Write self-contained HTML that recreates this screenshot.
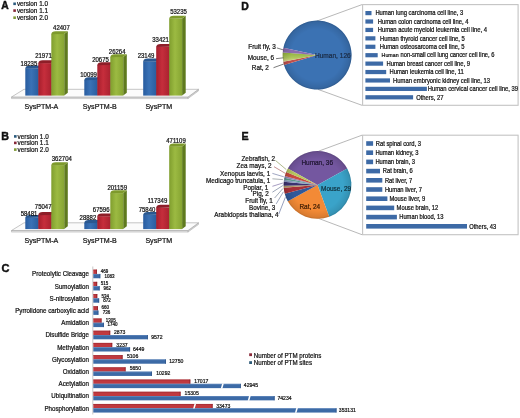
<!DOCTYPE html>
<html><head><meta charset="utf-8"><style>html,body{margin:0;padding:0;background:#fff;width:520px;height:418px;overflow:hidden}text{font-family:"Liberation Sans", sans-serif}</style></head><body>
<svg width="520" height="418" viewBox="0 0 520 418" style="display:block;will-change:transform;font-family:'Liberation Sans', sans-serif">
<defs>
<linearGradient id="gb" x1="0" x2="1" y1="0" y2="0"><stop offset="0" stop-color="#285c9f"/><stop offset="0.45" stop-color="#3a72b6"/><stop offset="1" stop-color="#2a5e9f"/></linearGradient>
<linearGradient id="gr" x1="0" x2="1" y1="0" y2="0"><stop offset="0" stop-color="#a61e2c"/><stop offset="0.45" stop-color="#c62e3c"/><stop offset="1" stop-color="#aa2230"/></linearGradient>
<linearGradient id="gg" x1="0" x2="1" y1="0" y2="0"><stop offset="0" stop-color="#809e2e"/><stop offset="0.45" stop-color="#9cba42"/><stop offset="1" stop-color="#86a432"/></linearGradient>
<radialGradient id="rim" cx="0.5" cy="0.5" r="0.5"><stop offset="0.75" stop-color="#000" stop-opacity="0"/><stop offset="0.95" stop-color="#000" stop-opacity="0.10"/><stop offset="1" stop-color="#000" stop-opacity="0.22"/></radialGradient>
<radialGradient id="hub" cx="0.5" cy="0.5" r="0.5"><stop offset="0" stop-color="#fff" stop-opacity="0.35"/><stop offset="0.5" stop-color="#fff" stop-opacity="0.0"/></radialGradient>
<linearGradient id="dgreen" x1="0" x2="0" y1="0" y2="1"><stop offset="0" stop-color="#8fb03c"/><stop offset="0.6" stop-color="#b0c860"/><stop offset="1" stop-color="#e8dc9a"/></linearGradient>
</defs>
<rect width="520" height="418" fill="#ffffff"/>
<text x="1.30" y="9.40" font-size="10.29" font-weight="bold" fill="#111" stroke="#111" stroke-width="0.45">A</text>
<rect x="13.30" y="2.50" width="2.6" height="2.6" fill="#2a5a7e"/>
<text x="16.90" y="6.28" font-size="6.93" text-anchor="start" fill="#111" stroke="#111" stroke-width="0.22" textLength="31.11" lengthAdjust="spacingAndGlyphs" >version 1.0</text>
<rect x="13.30" y="9.30" width="2.6" height="2.6" fill="#862838"/>
<text x="16.90" y="13.08" font-size="6.93" text-anchor="start" fill="#111" stroke="#111" stroke-width="0.22" textLength="31.11" lengthAdjust="spacingAndGlyphs" >version 1.1</text>
<rect x="13.30" y="16.40" width="2.6" height="2.6" fill="#7f9a38"/>
<text x="16.90" y="20.18" font-size="6.93" text-anchor="start" fill="#111" stroke="#111" stroke-width="0.22" textLength="31.11" lengthAdjust="spacingAndGlyphs" >version 2.0</text>
<polygon points="11.5,97.00 188,97.00 188,98.60 11.5,98.60" fill="#e2e2e2" stroke="#a8a8a8" stroke-width="0.5"/>
<polygon points="188,97.00 198.5,89.30 198.5,90.90 188,98.60" fill="#d4d4d4" stroke="#a8a8a8" stroke-width="0.5"/>
<polygon points="24,89.30 198.5,89.30 188,97.00 11.5,97.00" fill="#fbfbfb" stroke="#a0a0a0" stroke-width="0.6"/>
<polygon points="38.30,68.42 41.90,65.62 41.90,92.80 38.30,95.60" fill="#24508a"/>
<rect x="25.30" y="68.42" width="13.00" height="27.18" fill="url(#gb)"/>
<path d="M25.30,68.72 Q25.50,65.62 29.70,65.62 L41.90,65.62 L38.30,68.42 Z" fill="#2a5890"/>
<polygon points="51.30,63.09 54.90,60.29 54.90,92.80 51.30,95.60" fill="#861a24"/>
<rect x="38.30" y="63.09" width="13.00" height="32.51" fill="url(#gr)"/>
<path d="M38.30,63.39 Q38.50,60.29 42.70,60.29 L54.90,60.29 L51.30,63.09 Z" fill="#8e1e28"/>
<polygon points="64.20,33.97 67.80,31.17 67.80,92.80 64.20,95.60" fill="#5f7a1e"/>
<rect x="51.30" y="33.97" width="12.90" height="61.63" fill="url(#gg)"/>
<path d="M51.30,34.27 Q51.50,31.17 55.70,31.17 L67.80,31.17 L64.20,33.97 Z" fill="#7e9a2c"/>
<polygon points="97.30,80.01 100.90,77.21 100.90,92.80 97.30,95.60" fill="#24508a"/>
<rect x="84.30" y="80.01" width="13.00" height="15.59" fill="url(#gb)"/>
<path d="M84.30,80.31 Q84.50,77.21 88.70,77.21 L100.90,77.21 L97.30,80.01 Z" fill="#2a5890"/>
<polygon points="110.30,64.94 113.90,62.14 113.90,92.80 110.30,95.60" fill="#861a24"/>
<rect x="97.30" y="64.94" width="13.00" height="30.66" fill="url(#gr)"/>
<path d="M97.30,65.24 Q97.50,62.14 101.70,62.14 L113.90,62.14 L110.30,64.94 Z" fill="#8e1e28"/>
<polygon points="123.20,56.97 126.80,54.17 126.80,92.80 123.20,95.60" fill="#5f7a1e"/>
<rect x="110.30" y="56.97" width="12.90" height="38.63" fill="url(#gg)"/>
<path d="M110.30,57.27 Q110.50,54.17 114.70,54.17 L126.80,54.17 L123.20,56.97 Z" fill="#7e9a2c"/>
<polygon points="156.20,61.41 159.80,58.61 159.80,92.80 156.20,95.60" fill="#24508a"/>
<rect x="143.20" y="61.41" width="13.00" height="34.19" fill="url(#gb)"/>
<path d="M143.20,61.71 Q143.40,58.61 147.60,58.61 L159.80,58.61 L156.20,61.41 Z" fill="#2a5890"/>
<polygon points="169.20,46.78 172.80,43.98 172.80,92.80 169.20,95.60" fill="#861a24"/>
<rect x="156.20" y="46.78" width="13.00" height="48.82" fill="url(#gr)"/>
<path d="M156.20,47.08 Q156.40,43.98 160.60,43.98 L172.80,43.98 L169.20,46.78 Z" fill="#8e1e28"/>
<polygon points="182.10,18.54 185.70,15.74 185.70,92.80 182.10,95.60" fill="#5f7a1e"/>
<rect x="169.20" y="18.54" width="12.90" height="77.06" fill="url(#gg)"/>
<path d="M169.20,18.84 Q169.40,15.74 173.60,15.74 L185.70,15.74 L182.10,18.54 Z" fill="#7e9a2c"/>
<text x="28.90" y="66.24" font-size="6.54" text-anchor="middle" fill="#111" stroke="#111" stroke-width="0.22" textLength="16.69" lengthAdjust="spacingAndGlyphs" >18235</text>
<text x="43.50" y="57.84" font-size="6.54" text-anchor="middle" fill="#111" stroke="#111" stroke-width="0.22" textLength="16.69" lengthAdjust="spacingAndGlyphs" >21971</text>
<text x="61.40" y="29.84" font-size="6.54" text-anchor="middle" fill="#111" stroke="#111" stroke-width="0.22" textLength="16.69" lengthAdjust="spacingAndGlyphs" >42407</text>
<text x="88.60" y="76.64" font-size="6.54" text-anchor="middle" fill="#111" stroke="#111" stroke-width="0.22" textLength="16.69" lengthAdjust="spacingAndGlyphs" >10099</text>
<text x="100.50" y="61.84" font-size="6.54" text-anchor="middle" fill="#111" stroke="#111" stroke-width="0.22" textLength="16.69" lengthAdjust="spacingAndGlyphs" >20675</text>
<text x="117.20" y="54.34" font-size="6.54" text-anchor="middle" fill="#111" stroke="#111" stroke-width="0.22" textLength="16.69" lengthAdjust="spacingAndGlyphs" >26264</text>
<text x="146.00" y="58.24" font-size="6.54" text-anchor="middle" fill="#111" stroke="#111" stroke-width="0.22" textLength="16.69" lengthAdjust="spacingAndGlyphs" >23149</text>
<text x="160.60" y="42.14" font-size="6.54" text-anchor="middle" fill="#111" stroke="#111" stroke-width="0.22" textLength="16.69" lengthAdjust="spacingAndGlyphs" >33421</text>
<text x="178.50" y="14.14" font-size="6.54" text-anchor="middle" fill="#111" stroke="#111" stroke-width="0.22" textLength="16.69" lengthAdjust="spacingAndGlyphs" >53235</text>
<text x="41.40" y="109.07" font-size="7.74" text-anchor="middle" fill="#111" stroke="#111" stroke-width="0.22" textLength="33.92" lengthAdjust="spacingAndGlyphs" >SysPTM-A</text>
<text x="99.80" y="109.07" font-size="7.74" text-anchor="middle" fill="#111" stroke="#111" stroke-width="0.22" textLength="33.92" lengthAdjust="spacingAndGlyphs" >SysPTM-B</text>
<text x="158.80" y="109.07" font-size="7.74" text-anchor="middle" fill="#111" stroke="#111" stroke-width="0.22" textLength="26.82" lengthAdjust="spacingAndGlyphs" >SysPTM</text>
<text x="1.30" y="139.70" font-size="10.70" font-weight="bold" fill="#111" stroke="#111" stroke-width="0.45">B</text>
<rect x="14.00" y="135.10" width="2.6" height="2.6" fill="#2a5a7e"/>
<text x="17.60" y="138.88" font-size="6.93" text-anchor="start" fill="#111" stroke="#111" stroke-width="0.22" textLength="31.11" lengthAdjust="spacingAndGlyphs" >version 1.0</text>
<rect x="14.00" y="141.60" width="2.6" height="2.6" fill="#862838"/>
<text x="17.60" y="145.38" font-size="6.93" text-anchor="start" fill="#111" stroke="#111" stroke-width="0.22" textLength="31.11" lengthAdjust="spacingAndGlyphs" >version 1.1</text>
<rect x="14.00" y="148.30" width="2.6" height="2.6" fill="#7f9a38"/>
<text x="17.60" y="152.08" font-size="6.93" text-anchor="start" fill="#111" stroke="#111" stroke-width="0.22" textLength="31.11" lengthAdjust="spacingAndGlyphs" >version 2.0</text>
<polygon points="11.5,230.50 188,230.50 188,232.10 11.5,232.10" fill="#e2e2e2" stroke="#a8a8a8" stroke-width="0.5"/>
<polygon points="188,230.50 198.5,222.80 198.5,224.40 188,232.10" fill="#d4d4d4" stroke="#a8a8a8" stroke-width="0.5"/>
<polygon points="24,222.80 198.5,222.80 188,230.50 11.5,230.50" fill="#fbfbfb" stroke="#a0a0a0" stroke-width="0.6"/>
<polygon points="38.30,217.78 41.90,214.98 41.90,226.30 38.30,229.10" fill="#24508a"/>
<rect x="25.30" y="217.78" width="13.00" height="11.32" fill="url(#gb)"/>
<path d="M25.30,218.08 Q25.50,214.98 29.70,214.98 L41.90,214.98 L38.30,217.78 Z" fill="#2a5890"/>
<polygon points="51.30,214.92 54.90,212.12 54.90,226.30 51.30,229.10" fill="#861a24"/>
<rect x="38.30" y="214.92" width="13.00" height="14.18" fill="url(#gr)"/>
<path d="M38.30,215.22 Q38.50,212.12 42.70,212.12 L54.90,212.12 L51.30,214.92 Z" fill="#8e1e28"/>
<polygon points="64.20,165.15 67.80,162.35 67.80,226.30 64.20,229.10" fill="#5f7a1e"/>
<rect x="51.30" y="165.15" width="12.90" height="63.95" fill="url(#gg)"/>
<path d="M51.30,165.45 Q51.50,162.35 55.70,162.35 L67.80,162.35 L64.20,165.15 Z" fill="#7e9a2c"/>
<polygon points="97.30,222.90 100.90,220.10 100.90,226.30 97.30,229.10" fill="#24508a"/>
<rect x="84.30" y="222.90" width="13.00" height="6.20" fill="url(#gb)"/>
<path d="M84.30,223.20 Q84.50,220.10 88.70,220.10 L100.90,220.10 L97.30,222.90 Z" fill="#2a5890"/>
<polygon points="110.30,216.21 113.90,213.41 113.90,226.30 110.30,229.10" fill="#861a24"/>
<rect x="97.30" y="216.21" width="13.00" height="12.89" fill="url(#gr)"/>
<path d="M97.30,216.51 Q97.50,213.41 101.70,213.41 L113.90,213.41 L110.30,216.21 Z" fill="#8e1e28"/>
<polygon points="123.20,193.10 126.80,190.30 126.80,226.30 123.20,229.10" fill="#5f7a1e"/>
<rect x="110.30" y="193.10" width="12.90" height="36.00" fill="url(#gg)"/>
<path d="M110.30,193.40 Q110.50,190.30 114.70,190.30 L126.80,190.30 L123.20,193.10 Z" fill="#7e9a2c"/>
<polygon points="156.20,214.78 159.80,211.98 159.80,226.30 156.20,229.10" fill="#24508a"/>
<rect x="143.20" y="214.78" width="13.00" height="14.32" fill="url(#gb)"/>
<path d="M143.20,215.08 Q143.40,211.98 147.60,211.98 L159.80,211.98 L156.20,214.78 Z" fill="#2a5890"/>
<polygon points="169.20,207.60 172.80,204.80 172.80,226.30 169.20,229.10" fill="#861a24"/>
<rect x="156.20" y="207.60" width="13.00" height="21.50" fill="url(#gr)"/>
<path d="M156.20,207.90 Q156.40,204.80 160.60,204.80 L172.80,204.80 L169.20,207.60 Z" fill="#8e1e28"/>
<polygon points="182.10,146.40 185.70,143.60 185.70,226.30 182.10,229.10" fill="#5f7a1e"/>
<rect x="169.20" y="146.40" width="12.90" height="82.70" fill="url(#gg)"/>
<path d="M169.20,146.70 Q169.40,143.60 173.60,143.60 L185.70,143.60 L182.10,146.40 Z" fill="#7e9a2c"/>
<text x="29.00" y="215.84" font-size="6.54" text-anchor="middle" fill="#111" stroke="#111" stroke-width="0.22" textLength="16.69" lengthAdjust="spacingAndGlyphs" >58481</text>
<text x="43.20" y="208.84" font-size="6.54" text-anchor="middle" fill="#111" stroke="#111" stroke-width="0.22" textLength="16.69" lengthAdjust="spacingAndGlyphs" >75047</text>
<text x="61.80" y="160.84" font-size="6.54" text-anchor="middle" fill="#111" stroke="#111" stroke-width="0.22" textLength="20.02" lengthAdjust="spacingAndGlyphs" >362704</text>
<text x="87.90" y="220.04" font-size="6.54" text-anchor="middle" fill="#111" stroke="#111" stroke-width="0.22" textLength="16.69" lengthAdjust="spacingAndGlyphs" >28882</text>
<text x="101.20" y="212.34" font-size="6.54" text-anchor="middle" fill="#111" stroke="#111" stroke-width="0.22" textLength="16.69" lengthAdjust="spacingAndGlyphs" >67596</text>
<text x="117.20" y="189.94" font-size="6.54" text-anchor="middle" fill="#111" stroke="#111" stroke-width="0.22" textLength="19.58" lengthAdjust="spacingAndGlyphs" >201159</text>
<text x="147.00" y="211.94" font-size="6.54" text-anchor="middle" fill="#111" stroke="#111" stroke-width="0.22" textLength="16.69" lengthAdjust="spacingAndGlyphs" >75840</text>
<text x="157.50" y="203.24" font-size="6.54" text-anchor="middle" fill="#111" stroke="#111" stroke-width="0.22" textLength="19.58" lengthAdjust="spacingAndGlyphs" >117349</text>
<text x="176.00" y="143.24" font-size="6.54" text-anchor="middle" fill="#111" stroke="#111" stroke-width="0.22" textLength="19.58" lengthAdjust="spacingAndGlyphs" >471109</text>
<text x="41.40" y="242.57" font-size="7.74" text-anchor="middle" fill="#111" stroke="#111" stroke-width="0.22" textLength="33.92" lengthAdjust="spacingAndGlyphs" >SysPTM-A</text>
<text x="99.80" y="242.57" font-size="7.74" text-anchor="middle" fill="#111" stroke="#111" stroke-width="0.22" textLength="33.92" lengthAdjust="spacingAndGlyphs" >SysPTM-B</text>
<text x="158.80" y="242.57" font-size="7.74" text-anchor="middle" fill="#111" stroke="#111" stroke-width="0.22" textLength="26.82" lengthAdjust="spacingAndGlyphs" >SysPTM</text>
<text x="241.20" y="9.60" font-size="10.43" font-weight="bold" fill="#111" stroke="#111" stroke-width="0.45">D</text>
<line x1="317" y1="21" x2="362" y2="4.6" stroke="#9a9a9a" stroke-width="0.7"/>
<line x1="318" y1="89.4" x2="362" y2="105.3" stroke="#9a9a9a" stroke-width="0.7"/>
<path d="M317.10,55.10 L283.40,47.69 A34.50,34.50 0 1 1 284.02,64.90 Z" fill="#3b72b3"/>
<path d="M317.10,55.10 L284.02,64.90 A34.50,34.50 0 0 1 283.26,61.83 Z" fill="#c0504d"/>
<path d="M317.10,55.10 L283.26,61.83 A34.50,34.50 0 0 1 282.71,52.39 Z" fill="url(#dgreen)"/>
<path d="M317.10,55.10 L282.71,52.39 A34.50,34.50 0 0 1 283.40,47.69 Z" fill="#8a6cb0"/>
<circle cx="317.1" cy="55.1" r="34.5" fill="url(#rim)"/>
<text x="262.10" y="49.00" font-size="6.98" text-anchor="middle" fill="#111" stroke="#111" stroke-width="0.22" textLength="27.62" lengthAdjust="spacingAndGlyphs" >Fruit fly, 3</text>
<text x="260.90" y="60.20" font-size="6.98" text-anchor="middle" fill="#111" stroke="#111" stroke-width="0.22" textLength="26.33" lengthAdjust="spacingAndGlyphs" >Mouse, 6</text>
<text x="260.40" y="70.40" font-size="6.98" text-anchor="middle" fill="#111" stroke="#111" stroke-width="0.22" textLength="17.07" lengthAdjust="spacingAndGlyphs" >Rat, 2</text>
<polyline points="276.9,47.9 283.6,50" fill="none" stroke="#333" stroke-width="0.65"/>
<polyline points="276,58.7 283.3,57.8" fill="none" stroke="#333" stroke-width="0.65"/>
<polyline points="273.5,67.7 283.8,64" fill="none" stroke="#333" stroke-width="0.65"/>
<text x="315.00" y="58.16" font-size="7.14" text-anchor="start" fill="#1b2b44" stroke="#1b2b44" stroke-width="0.22" textLength="35.68" lengthAdjust="spacingAndGlyphs" >Human, 126</text>
<rect x="362.6" y="4.6" width="155.5" height="100.7" fill="#ffffff" stroke="#c4c4c4" stroke-width="1.1"/>
<rect x="365.4" y="11.00" width="6.10" height="4.2" fill="#3d6aa6"/>
<text x="375.40" y="15.38" font-size="6.38" text-anchor="start" fill="#111" stroke="#111" stroke-width="0.22" textLength="87.80" lengthAdjust="spacingAndGlyphs" >Human lung carcinoma cell line, 3</text>
<rect x="365.4" y="19.42" width="7.70" height="4.2" fill="#3d6aa6"/>
<text x="377.70" y="23.80" font-size="6.38" text-anchor="start" fill="#111" stroke="#111" stroke-width="0.22" textLength="90.72" lengthAdjust="spacingAndGlyphs" >Human colon carcinoma cell line, 4</text>
<rect x="365.4" y="27.84" width="7.70" height="4.2" fill="#3d6aa6"/>
<text x="377.70" y="32.22" font-size="6.38" text-anchor="start" fill="#111" stroke="#111" stroke-width="0.22" textLength="109.26" lengthAdjust="spacingAndGlyphs" >Human acute myeloid leukemia cell line, 4</text>
<rect x="365.4" y="36.26" width="10.00" height="4.2" fill="#3d6aa6"/>
<text x="380.00" y="40.64" font-size="6.38" text-anchor="start" fill="#111" stroke="#111" stroke-width="0.22" textLength="84.87" lengthAdjust="spacingAndGlyphs" >Human thyroid cancer cell line, 5</text>
<rect x="365.4" y="44.68" width="10.00" height="4.2" fill="#3d6aa6"/>
<text x="379.70" y="49.06" font-size="6.38" text-anchor="start" fill="#111" stroke="#111" stroke-width="0.22" textLength="84.87" lengthAdjust="spacingAndGlyphs" >Human osteosarcoma cell line, 5</text>
<rect x="365.4" y="53.10" width="12.30" height="4.2" fill="#3d6aa6"/>
<text x="381.60" y="57.27" font-size="5.78" text-anchor="start" fill="#111" stroke="#111" stroke-width="0.22" textLength="17.09" lengthAdjust="spacingAndGlyphs" >Human</text>
<text x="400.50" y="57.45" font-size="6.29" text-anchor="start" fill="#111" stroke="#111" stroke-width="0.22" textLength="93.97" lengthAdjust="spacingAndGlyphs" >non-small cell lung cancer cell line, 6</text>
<rect x="365.4" y="61.52" width="17.70" height="4.2" fill="#3d6aa6"/>
<text x="386.50" y="65.90" font-size="6.38" text-anchor="start" fill="#111" stroke="#111" stroke-width="0.22" textLength="83.57" lengthAdjust="spacingAndGlyphs" >Human breast cancer cell line, 9</text>
<rect x="365.4" y="69.94" width="20.80" height="4.2" fill="#3d6aa6"/>
<text x="389.50" y="74.32" font-size="6.38" text-anchor="start" fill="#111" stroke="#111" stroke-width="0.22" textLength="74.36" lengthAdjust="spacingAndGlyphs" >Human leukemia cell line, 11</text>
<rect x="365.4" y="78.36" width="24.60" height="4.2" fill="#3d6aa6"/>
<text x="393.10" y="82.74" font-size="6.38" text-anchor="start" fill="#111" stroke="#111" stroke-width="0.22" textLength="96.90" lengthAdjust="spacingAndGlyphs" >Human embryonic kidney cell line, 13</text>
<rect x="365.4" y="86.78" width="61.50" height="4.2" fill="#3d6aa6"/>
<text x="427.70" y="91.16" font-size="6.38" text-anchor="start" fill="#111" stroke="#111" stroke-width="0.22" textLength="90.39" lengthAdjust="spacingAndGlyphs" >Human cervical cancer cell line, 39</text>
<rect x="365.4" y="95.20" width="47.70" height="4.2" fill="#3d6aa6"/>
<text x="416.20" y="99.58" font-size="6.38" text-anchor="start" fill="#111" stroke="#111" stroke-width="0.22" textLength="27.31" lengthAdjust="spacingAndGlyphs" >Others, 27</text>
<text x="241.40" y="139.80" font-size="10.70" font-weight="bold" fill="#111" stroke="#111" stroke-width="0.45">E</text>
<line x1="318.5" y1="151.2" x2="362" y2="135.2" stroke="#9a9a9a" stroke-width="0.7"/>
<line x1="318.5" y1="218.4" x2="362" y2="234.7" stroke="#9a9a9a" stroke-width="0.7"/>
<path d="M317.50,184.90 L287.85,168.46 A33.90,33.90 0 0 1 347.23,168.60 Z" fill="#7457a0"/>
<path d="M317.50,184.90 L347.23,168.60 A33.90,33.90 0 0 1 329.23,216.71 Z" fill="#3aa3c9"/>
<path d="M317.50,184.90 L329.23,216.71 A33.90,33.90 0 0 1 287.77,201.20 Z" fill="#f38a36"/>
<path d="M317.50,184.90 L287.77,201.20 A33.90,33.90 0 0 1 284.78,193.76 Z" fill="#30599a"/>
<path d="M317.50,184.90 L284.78,193.76 A33.90,33.90 0 0 1 283.73,187.83 Z" fill="#a83038"/>
<path d="M317.50,184.90 L283.73,187.83 A33.90,33.90 0 0 1 283.61,185.83 Z" fill="#b09868"/>
<path d="M317.50,184.90 L283.61,185.83 A33.90,33.90 0 0 1 283.74,181.81 Z" fill="#3c3270"/>
<path d="M317.50,184.90 L283.74,181.81 A33.90,33.90 0 0 1 283.98,179.82 Z" fill="#8a9ac0"/>
<path d="M317.50,184.90 L283.98,179.82 A33.90,33.90 0 0 1 284.34,177.84 Z" fill="#5a9a90"/>
<path d="M317.50,184.90 L284.34,177.84 A33.90,33.90 0 0 1 284.82,175.89 Z" fill="#9488b8"/>
<path d="M317.50,184.90 L284.82,175.89 A33.90,33.90 0 0 1 286.11,172.09 Z" fill="#c84a40"/>
<path d="M317.50,184.90 L286.11,172.09 A33.90,33.90 0 0 1 287.85,168.46 Z" fill="#b8c860"/>
<circle cx="317.5" cy="184.9" r="33.9" fill="url(#rim)"/>
<text x="317.20" y="164.82" font-size="7.03" text-anchor="middle" fill="#1e1430" stroke="#1e1430" stroke-width="0.22" textLength="31.55" lengthAdjust="spacingAndGlyphs" >Human, 36</text>
<text x="336.10" y="191.02" font-size="7.03" text-anchor="middle" fill="#10303c" stroke="#10303c" stroke-width="0.22" textLength="30.12" lengthAdjust="spacingAndGlyphs" >Mouse, 29</text>
<text x="309.80" y="209.42" font-size="7.03" text-anchor="middle" fill="#3a1a00" stroke="#3a1a00" stroke-width="0.22" textLength="20.80" lengthAdjust="spacingAndGlyphs" >Rat, 24</text>
<text x="275.00" y="161.08" font-size="6.92" text-anchor="end" fill="#111" stroke="#111" stroke-width="0.22" textLength="33.53" lengthAdjust="spacingAndGlyphs" >Zebrafish, 2</text>
<line x1="275.4" y1="160.4" x2="286.3" y2="169.6" stroke="#7a8a40" stroke-width="0.6"/>
<text x="271.50" y="167.88" font-size="6.92" text-anchor="end" fill="#111" stroke="#111" stroke-width="0.22" textLength="34.94" lengthAdjust="spacingAndGlyphs" >Zea mays, 2</text>
<line x1="274" y1="166.7" x2="285.4" y2="173.4" stroke="#a04a48" stroke-width="0.6"/>
<text x="270.20" y="175.58" font-size="6.92" text-anchor="end" fill="#111" stroke="#111" stroke-width="0.22" textLength="50.13" lengthAdjust="spacingAndGlyphs" >Xenopus laevis, 1</text>
<line x1="272.4" y1="173.4" x2="283.8" y2="176.8" stroke="#606a98" stroke-width="0.6"/>
<text x="270.20" y="182.68" font-size="6.92" text-anchor="end" fill="#111" stroke="#111" stroke-width="0.22" textLength="64.25" lengthAdjust="spacingAndGlyphs" >Medicago truncatula, 1</text>
<line x1="272.4" y1="178.8" x2="282.9" y2="179.6" stroke="#707a80" stroke-width="0.6"/>
<text x="268.30" y="189.98" font-size="6.92" text-anchor="end" fill="#111" stroke="#111" stroke-width="0.22" textLength="25.07" lengthAdjust="spacingAndGlyphs" >Poplar, 1</text>
<line x1="272.4" y1="186.3" x2="282.9" y2="183" stroke="#6a5a98" stroke-width="0.6"/>
<text x="268.80" y="196.28" font-size="6.92" text-anchor="end" fill="#111" stroke="#111" stroke-width="0.22" textLength="16.24" lengthAdjust="spacingAndGlyphs" >Pig, 2</text>
<line x1="272.4" y1="192.2" x2="282.9" y2="185.5" stroke="#5a6a88" stroke-width="0.6"/>
<text x="272.70" y="203.48" font-size="6.92" text-anchor="end" fill="#111" stroke="#111" stroke-width="0.22" textLength="27.40" lengthAdjust="spacingAndGlyphs" >Fruit fly, 1</text>
<line x1="274.6" y1="198" x2="282.9" y2="188.5" stroke="#607088" stroke-width="0.6"/>
<text x="275.40" y="209.78" font-size="6.92" text-anchor="end" fill="#111" stroke="#111" stroke-width="0.22" textLength="26.48" lengthAdjust="spacingAndGlyphs" >Bovine, 3</text>
<line x1="276.2" y1="203.9" x2="283.4" y2="191.8" stroke="#5a6a90" stroke-width="0.6"/>
<text x="278.50" y="216.88" font-size="6.92" text-anchor="end" fill="#111" stroke="#111" stroke-width="0.22" textLength="64.25" lengthAdjust="spacingAndGlyphs" >Arabidopsis thaliana, 4</text>
<line x1="278.7" y1="214.3" x2="285.4" y2="197.2" stroke="#506090" stroke-width="0.6"/>
<rect x="362.6" y="135.2" width="155.5" height="99.5" fill="#ffffff" stroke="#c4c4c4" stroke-width="1.1"/>
<rect x="366.2" y="141.20" width="6.90" height="4.6" fill="#3d6aa6"/>
<text x="375.80" y="145.76" font-size="6.32" text-anchor="start" fill="#111" stroke="#111" stroke-width="0.22" textLength="45.13" lengthAdjust="spacingAndGlyphs" >Rat spinal cord, 3</text>
<rect x="366.2" y="150.40" width="6.90" height="4.6" fill="#3d6aa6"/>
<text x="375.40" y="154.96" font-size="6.32" text-anchor="start" fill="#111" stroke="#111" stroke-width="0.22" textLength="43.09" lengthAdjust="spacingAndGlyphs" >Human kidney, 3</text>
<rect x="366.2" y="159.60" width="6.90" height="4.6" fill="#3d6aa6"/>
<text x="375.40" y="164.16" font-size="6.32" text-anchor="start" fill="#111" stroke="#111" stroke-width="0.22" textLength="39.66" lengthAdjust="spacingAndGlyphs" >Human brain, 3</text>
<rect x="366.2" y="168.80" width="13.80" height="4.6" fill="#3d6aa6"/>
<text x="382.80" y="173.36" font-size="6.32" text-anchor="start" fill="#111" stroke="#111" stroke-width="0.22" textLength="29.98" lengthAdjust="spacingAndGlyphs" >Rat brain, 6</text>
<rect x="366.2" y="178.00" width="16.10" height="4.6" fill="#3d6aa6"/>
<text x="384.90" y="182.56" font-size="6.32" text-anchor="start" fill="#111" stroke="#111" stroke-width="0.22" textLength="27.40" lengthAdjust="spacingAndGlyphs" >Rat liver, 7</text>
<rect x="366.2" y="187.20" width="16.10" height="4.6" fill="#3d6aa6"/>
<text x="384.90" y="191.76" font-size="6.32" text-anchor="start" fill="#111" stroke="#111" stroke-width="0.22" textLength="37.07" lengthAdjust="spacingAndGlyphs" >Human liver, 7</text>
<rect x="366.2" y="196.40" width="21.20" height="4.6" fill="#3d6aa6"/>
<text x="389.50" y="200.96" font-size="6.32" text-anchor="start" fill="#111" stroke="#111" stroke-width="0.22" textLength="35.78" lengthAdjust="spacingAndGlyphs" >Mouse liver, 9</text>
<rect x="366.2" y="205.60" width="28.00" height="4.6" fill="#3d6aa6"/>
<text x="396.60" y="210.16" font-size="6.32" text-anchor="start" fill="#111" stroke="#111" stroke-width="0.22" textLength="41.59" lengthAdjust="spacingAndGlyphs" >Mouse brain, 12</text>
<rect x="366.2" y="214.80" width="30.70" height="4.6" fill="#3d6aa6"/>
<text x="399.20" y="219.36" font-size="6.32" text-anchor="start" fill="#111" stroke="#111" stroke-width="0.22" textLength="44.18" lengthAdjust="spacingAndGlyphs" >Human blood, 13</text>
<rect x="366.2" y="224.00" width="100.80" height="4.6" fill="#3d6aa6"/>
<text x="469.20" y="228.56" font-size="6.32" text-anchor="start" fill="#111" stroke="#111" stroke-width="0.22" textLength="27.08" lengthAdjust="spacingAndGlyphs" >Others, 43</text>
<text x="1.50" y="272.10" font-size="11.11" font-weight="bold" fill="#111" stroke="#111" stroke-width="0.45">C</text>
<line x1="92.8" y1="266.5" x2="92.8" y2="414.5" stroke="#b0b0b0" stroke-width="0.7"/>
<text x="88.90" y="276.37" font-size="6.76" text-anchor="end" fill="#111" stroke="#111" stroke-width="0.22" textLength="56.86" lengthAdjust="spacingAndGlyphs" >Proteolytic Cleavage</text>
<rect x="93.30" y="269.65" width="3.60" height="4.30" fill="#c0393f"/>
<rect x="93.30" y="269.65" width="3.60" height="0.8" fill="#9a2a30" opacity="0.7"/>
<rect x="96.10" y="269.65" width="0.8" height="4.30" fill="#7e1c22" opacity="0.8"/>
<rect x="93.30" y="273.95" width="6.99" height="4.30" fill="#3c6aa6"/>
<rect x="93.30" y="273.95" width="6.99" height="0.8" fill="#6a90c0" opacity="0.7"/>
<rect x="99.49" y="273.95" width="0.8" height="4.30" fill="#2a4f82" opacity="0.8"/>
<text x="88.90" y="288.58" font-size="6.76" text-anchor="end" fill="#111" stroke="#111" stroke-width="0.22" textLength="34.12" lengthAdjust="spacingAndGlyphs" >Sumoylation</text>
<rect x="93.30" y="281.86" width="3.85" height="4.30" fill="#c0393f"/>
<rect x="93.30" y="281.86" width="3.85" height="0.8" fill="#9a2a30" opacity="0.7"/>
<rect x="96.35" y="281.86" width="0.8" height="4.30" fill="#7e1c22" opacity="0.8"/>
<rect x="93.30" y="286.16" width="6.32" height="4.30" fill="#3c6aa6"/>
<rect x="93.30" y="286.16" width="6.32" height="0.8" fill="#6a90c0" opacity="0.7"/>
<rect x="98.82" y="286.16" width="0.8" height="4.30" fill="#2a4f82" opacity="0.8"/>
<text x="88.90" y="300.79" font-size="6.76" text-anchor="end" fill="#111" stroke="#111" stroke-width="0.22" textLength="39.28" lengthAdjust="spacingAndGlyphs" >S-nitrosylation</text>
<rect x="93.30" y="294.07" width="3.95" height="4.30" fill="#c0393f"/>
<rect x="93.30" y="294.07" width="3.95" height="0.8" fill="#9a2a30" opacity="0.7"/>
<rect x="96.45" y="294.07" width="0.8" height="4.30" fill="#7e1c22" opacity="0.8"/>
<rect x="93.30" y="298.37" width="5.83" height="4.30" fill="#3c6aa6"/>
<rect x="93.30" y="298.37" width="5.83" height="0.8" fill="#6a90c0" opacity="0.7"/>
<rect x="98.33" y="298.37" width="0.8" height="4.30" fill="#2a4f82" opacity="0.8"/>
<text x="88.90" y="313.00" font-size="6.76" text-anchor="end" fill="#111" stroke="#111" stroke-width="0.22" textLength="73.75" lengthAdjust="spacingAndGlyphs" >Pyrrolidone carboxylic acid</text>
<rect x="93.30" y="306.28" width="4.65" height="4.30" fill="#c0393f"/>
<rect x="93.30" y="306.28" width="4.65" height="0.8" fill="#9a2a30" opacity="0.7"/>
<rect x="97.15" y="306.28" width="0.8" height="4.30" fill="#7e1c22" opacity="0.8"/>
<rect x="93.30" y="310.58" width="5.07" height="4.30" fill="#3c6aa6"/>
<rect x="93.30" y="310.58" width="5.07" height="0.8" fill="#6a90c0" opacity="0.7"/>
<rect x="97.57" y="310.58" width="0.8" height="4.30" fill="#2a4f82" opacity="0.8"/>
<text x="88.90" y="325.21" font-size="6.76" text-anchor="end" fill="#111" stroke="#111" stroke-width="0.22" textLength="27.57" lengthAdjust="spacingAndGlyphs" >Amidation</text>
<rect x="93.30" y="318.49" width="8.22" height="4.30" fill="#c0393f"/>
<rect x="93.30" y="318.49" width="8.22" height="0.8" fill="#9a2a30" opacity="0.7"/>
<rect x="100.72" y="318.49" width="0.8" height="4.30" fill="#7e1c22" opacity="0.8"/>
<rect x="93.30" y="322.79" width="10.63" height="4.30" fill="#3c6aa6"/>
<rect x="93.30" y="322.79" width="10.63" height="0.8" fill="#6a90c0" opacity="0.7"/>
<rect x="103.13" y="322.79" width="0.8" height="4.30" fill="#2a4f82" opacity="0.8"/>
<text x="88.90" y="337.42" font-size="6.76" text-anchor="end" fill="#111" stroke="#111" stroke-width="0.22" textLength="43.42" lengthAdjust="spacingAndGlyphs" >Disulfide Bridge</text>
<rect x="93.30" y="330.70" width="16.90" height="4.30" fill="#c0393f"/>
<rect x="93.30" y="330.70" width="16.90" height="0.8" fill="#9a2a30" opacity="0.7"/>
<rect x="109.40" y="330.70" width="0.8" height="4.30" fill="#7e1c22" opacity="0.8"/>
<rect x="93.30" y="335.00" width="54.56" height="4.30" fill="#3c6aa6"/>
<rect x="93.30" y="335.00" width="54.56" height="0.8" fill="#6a90c0" opacity="0.7"/>
<rect x="147.06" y="335.00" width="0.8" height="4.30" fill="#2a4f82" opacity="0.8"/>
<text x="88.90" y="349.63" font-size="6.76" text-anchor="end" fill="#111" stroke="#111" stroke-width="0.22" textLength="31.71" lengthAdjust="spacingAndGlyphs" >Methylation</text>
<rect x="93.30" y="342.91" width="18.91" height="4.30" fill="#c0393f"/>
<rect x="93.30" y="342.91" width="18.91" height="0.8" fill="#9a2a30" opacity="0.7"/>
<rect x="111.41" y="342.91" width="0.8" height="4.30" fill="#7e1c22" opacity="0.8"/>
<rect x="93.30" y="347.21" width="36.76" height="4.30" fill="#3c6aa6"/>
<rect x="93.30" y="347.21" width="36.76" height="0.8" fill="#6a90c0" opacity="0.7"/>
<rect x="129.26" y="347.21" width="0.8" height="4.30" fill="#2a4f82" opacity="0.8"/>
<text x="88.90" y="361.84" font-size="6.76" text-anchor="end" fill="#111" stroke="#111" stroke-width="0.22" textLength="36.87" lengthAdjust="spacingAndGlyphs" >Glycosylation</text>
<rect x="93.30" y="355.12" width="29.25" height="4.30" fill="#c0393f"/>
<rect x="93.30" y="355.12" width="29.25" height="0.8" fill="#9a2a30" opacity="0.7"/>
<rect x="121.75" y="355.12" width="0.8" height="4.30" fill="#7e1c22" opacity="0.8"/>
<rect x="93.30" y="359.42" width="72.67" height="4.30" fill="#3c6aa6"/>
<rect x="93.30" y="359.42" width="72.67" height="0.8" fill="#6a90c0" opacity="0.7"/>
<rect x="165.17" y="359.42" width="0.8" height="4.30" fill="#2a4f82" opacity="0.8"/>
<text x="88.90" y="374.05" font-size="6.76" text-anchor="end" fill="#111" stroke="#111" stroke-width="0.22" textLength="26.19" lengthAdjust="spacingAndGlyphs" >Oxidation</text>
<rect x="93.30" y="367.33" width="32.26" height="4.30" fill="#c0393f"/>
<rect x="93.30" y="367.33" width="32.26" height="0.8" fill="#9a2a30" opacity="0.7"/>
<rect x="124.76" y="367.33" width="0.8" height="4.30" fill="#7e1c22" opacity="0.8"/>
<rect x="93.30" y="371.63" width="58.66" height="4.30" fill="#3c6aa6"/>
<rect x="93.30" y="371.63" width="58.66" height="0.8" fill="#6a90c0" opacity="0.7"/>
<rect x="151.16" y="371.63" width="0.8" height="4.30" fill="#2a4f82" opacity="0.8"/>
<text x="88.90" y="386.26" font-size="6.76" text-anchor="end" fill="#111" stroke="#111" stroke-width="0.22" textLength="30.33" lengthAdjust="spacingAndGlyphs" >Acetylation</text>
<rect x="93.30" y="379.54" width="97.00" height="4.30" fill="#c0393f"/>
<rect x="93.30" y="379.54" width="97.00" height="0.8" fill="#9a2a30" opacity="0.7"/>
<rect x="189.50" y="379.54" width="0.8" height="4.30" fill="#7e1c22" opacity="0.8"/>
<rect x="93.30" y="383.84" width="147.50" height="4.30" fill="#3c6aa6"/>
<rect x="93.30" y="383.84" width="147.50" height="0.8" fill="#6a90c0" opacity="0.7"/>
<rect x="240.00" y="383.84" width="0.8" height="4.30" fill="#2a4f82" opacity="0.8"/>
<polygon points="220.80,388.44 222.40,388.44 223.80,383.54 222.20,383.54" fill="#ffffff"/>
<text x="88.90" y="398.47" font-size="6.76" text-anchor="end" fill="#111" stroke="#111" stroke-width="0.22" textLength="37.57" lengthAdjust="spacingAndGlyphs" >Ubiquitination</text>
<rect x="93.30" y="391.75" width="87.24" height="4.30" fill="#c0393f"/>
<rect x="93.30" y="391.75" width="87.24" height="0.8" fill="#9a2a30" opacity="0.7"/>
<rect x="179.74" y="391.75" width="0.8" height="4.30" fill="#7e1c22" opacity="0.8"/>
<rect x="93.30" y="396.05" width="181.30" height="4.30" fill="#3c6aa6"/>
<rect x="93.30" y="396.05" width="181.30" height="0.8" fill="#6a90c0" opacity="0.7"/>
<rect x="273.80" y="396.05" width="0.8" height="4.30" fill="#2a4f82" opacity="0.8"/>
<polygon points="247.70,400.65 249.30,400.65 250.70,395.75 249.10,395.75" fill="#ffffff"/>
<text x="88.90" y="410.68" font-size="6.76" text-anchor="end" fill="#111" stroke="#111" stroke-width="0.22" textLength="44.46" lengthAdjust="spacingAndGlyphs" >Phosphorylation</text>
<rect x="93.30" y="403.96" width="119.30" height="4.30" fill="#c0393f"/>
<rect x="93.30" y="403.96" width="119.30" height="0.8" fill="#9a2a30" opacity="0.7"/>
<rect x="211.80" y="403.96" width="0.8" height="4.30" fill="#7e1c22" opacity="0.8"/>
<rect x="93.30" y="408.26" width="243.20" height="4.30" fill="#3c6aa6"/>
<rect x="93.30" y="408.26" width="243.20" height="0.8" fill="#6a90c0" opacity="0.7"/>
<rect x="335.70" y="408.26" width="0.8" height="4.30" fill="#2a4f82" opacity="0.8"/>
<polygon points="193.10,408.56 194.70,408.56 196.10,403.66 194.50,403.66" fill="#ffffff"/>
<polygon points="294.90,412.86 296.50,412.86 297.90,407.96 296.30,407.96" fill="#ffffff"/>
<text x="100.70" y="272.96" font-size="4.91" text-anchor="start" fill="#111" stroke="#111" stroke-width="0.22" textLength="7.51" lengthAdjust="spacingAndGlyphs" >469</text>
<text x="104.50" y="277.56" font-size="4.91" text-anchor="start" fill="#111" stroke="#111" stroke-width="0.22" textLength="10.01" lengthAdjust="spacingAndGlyphs" >1083</text>
<text x="100.70" y="284.96" font-size="4.91" text-anchor="start" fill="#111" stroke="#111" stroke-width="0.22" textLength="7.51" lengthAdjust="spacingAndGlyphs" >515</text>
<text x="103.40" y="289.56" font-size="4.91" text-anchor="start" fill="#111" stroke="#111" stroke-width="0.22" textLength="7.51" lengthAdjust="spacingAndGlyphs" >962</text>
<text x="101.40" y="297.96" font-size="4.91" text-anchor="start" fill="#111" stroke="#111" stroke-width="0.22" textLength="7.51" lengthAdjust="spacingAndGlyphs" >534</text>
<text x="103.30" y="301.76" font-size="4.91" text-anchor="start" fill="#111" stroke="#111" stroke-width="0.22" textLength="7.51" lengthAdjust="spacingAndGlyphs" >872</text>
<text x="101.40" y="309.46" font-size="4.91" text-anchor="start" fill="#111" stroke="#111" stroke-width="0.22" textLength="7.51" lengthAdjust="spacingAndGlyphs" >660</text>
<text x="102.80" y="313.76" font-size="4.91" text-anchor="start" fill="#111" stroke="#111" stroke-width="0.22" textLength="7.51" lengthAdjust="spacingAndGlyphs" >736</text>
<text x="105.70" y="321.86" font-size="4.91" text-anchor="start" fill="#111" stroke="#111" stroke-width="0.22" textLength="10.01" lengthAdjust="spacingAndGlyphs" >1305</text>
<text x="107.60" y="325.76" font-size="4.91" text-anchor="start" fill="#111" stroke="#111" stroke-width="0.22" textLength="10.01" lengthAdjust="spacingAndGlyphs" >1740</text>
<text x="114.00" y="334.19" font-size="5.56" text-anchor="start" fill="#111" stroke="#111" stroke-width="0.22" textLength="11.35" lengthAdjust="spacingAndGlyphs" >2873</text>
<text x="151.20" y="339.49" font-size="5.56" text-anchor="start" fill="#111" stroke="#111" stroke-width="0.22" textLength="11.35" lengthAdjust="spacingAndGlyphs" >9572</text>
<text x="116.30" y="346.59" font-size="5.56" text-anchor="start" fill="#111" stroke="#111" stroke-width="0.22" textLength="11.35" lengthAdjust="spacingAndGlyphs" >3237</text>
<text x="133.00" y="351.19" font-size="5.56" text-anchor="start" fill="#111" stroke="#111" stroke-width="0.22" textLength="11.35" lengthAdjust="spacingAndGlyphs" >6449</text>
<text x="126.90" y="358.49" font-size="5.56" text-anchor="start" fill="#111" stroke="#111" stroke-width="0.22" textLength="11.35" lengthAdjust="spacingAndGlyphs" >5106</text>
<text x="169.20" y="363.19" font-size="5.56" text-anchor="start" fill="#111" stroke="#111" stroke-width="0.22" textLength="14.18" lengthAdjust="spacingAndGlyphs" >12750</text>
<text x="129.70" y="370.49" font-size="5.56" text-anchor="start" fill="#111" stroke="#111" stroke-width="0.22" textLength="11.35" lengthAdjust="spacingAndGlyphs" >5650</text>
<text x="156.20" y="375.19" font-size="5.56" text-anchor="start" fill="#111" stroke="#111" stroke-width="0.22" textLength="14.18" lengthAdjust="spacingAndGlyphs" >10292</text>
<text x="194.20" y="383.09" font-size="5.56" text-anchor="start" fill="#111" stroke="#111" stroke-width="0.22" textLength="14.18" lengthAdjust="spacingAndGlyphs" >17017</text>
<text x="243.80" y="387.39" font-size="5.56" text-anchor="start" fill="#111" stroke="#111" stroke-width="0.22" textLength="14.18" lengthAdjust="spacingAndGlyphs" >42945</text>
<text x="184.60" y="395.49" font-size="5.56" text-anchor="start" fill="#111" stroke="#111" stroke-width="0.22" textLength="14.18" lengthAdjust="spacingAndGlyphs" >15305</text>
<text x="277.40" y="400.09" font-size="5.56" text-anchor="start" fill="#111" stroke="#111" stroke-width="0.22" textLength="14.18" lengthAdjust="spacingAndGlyphs" >74234</text>
<text x="216.20" y="407.69" font-size="5.56" text-anchor="start" fill="#111" stroke="#111" stroke-width="0.22" textLength="14.18" lengthAdjust="spacingAndGlyphs" >33473</text>
<text x="338.80" y="411.79" font-size="5.56" text-anchor="start" fill="#111" stroke="#111" stroke-width="0.22" textLength="17.02" lengthAdjust="spacingAndGlyphs" >353131</text>
<rect x="249.2" y="353.3" width="2.8" height="2.8" fill="#8a2838"/>
<rect x="249.2" y="361.2" width="2.8" height="2.8" fill="#2c5a78"/>
<text x="253.80" y="357.62" font-size="6.76" text-anchor="start" fill="#111" stroke="#111" stroke-width="0.22" textLength="67.54" lengthAdjust="spacingAndGlyphs" >Number of PTM proteins</text>
<text x="253.80" y="365.22" font-size="6.76" text-anchor="start" fill="#111" stroke="#111" stroke-width="0.22" textLength="58.23" lengthAdjust="spacingAndGlyphs" >Number of PTM sites</text>
</svg>
</body></html>
